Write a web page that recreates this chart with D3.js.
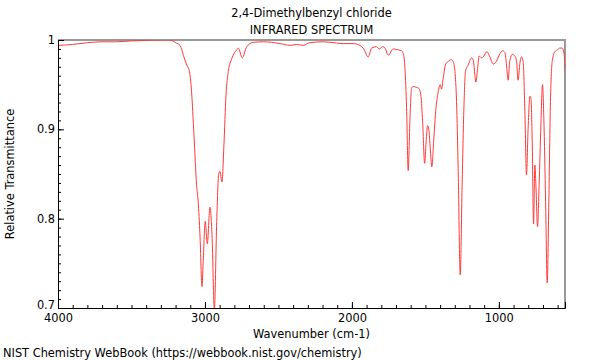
<!DOCTYPE html>
<html>
<head>
<meta charset="utf-8">
<script src="https://cdn.jsdelivr.net/npm/d3@7"></script>
<style>
  body { margin: 0; background: #fff; }
  svg { font-family: "DejaVu Sans", sans-serif; }
</style>
</head>
<body>
<svg id="chart" width="600" height="360"></svg>
<script>
// spectrum
const wavenumbers = [
  4000, 3900, 3800, 3700, 3600, 3500, 3400, 3300, 3250, 3220, 3200, 3170, 3143, 3124, 3107, 3091,
  3075, 3057, 3046, 3034, 3020, 3012, 2998, 2984, 2966, 2952, 2936, 2920, 2907, 2898, 2884, 2871,
  2857, 2841, 2818, 2784, 2773, 2746, 2716, 2671, 2603, 2490, 2422, 2376, 2331, 2286, 2195, 2104,
  2059, 1991, 1946, 1923, 1889, 1866, 1832, 1814, 1791, 1775, 1753, 1719, 1685, 1662, 1651, 1639,
  1628, 1617, 1605, 1594, 1583, 1560, 1545, 1530, 1519, 1505, 1495, 1485, 1476, 1467, 1456, 1444,
  1430, 1413, 1399, 1390, 1379, 1362, 1345, 1322, 1311, 1299, 1288, 1277, 1263, 1250, 1238, 1227,
  1209, 1186, 1175, 1156, 1145, 1134, 1118, 1102, 1082, 1061, 1039, 1016, 998, 975, 959, 948,
  937, 926, 909, 891, 880, 869, 857, 846, 835, 823, 812, 801, 789, 782, 773, 764,
  755, 748, 737, 726, 714, 703, 694, 682, 671, 660, 649, 637, 619, 601, 585, 569,
  555, 550
];
const transmittance = [
  0.994, 0.995, 0.997, 0.998, 0.998, 0.999, 0.9995, 1.0, 1.0, 0.999, 0.997, 0.994, 0.981, 0.972, 0.966, 0.942,
  0.894, 0.838, 0.819, 0.782, 0.724, 0.752, 0.797, 0.772, 0.813, 0.782, 0.698, 0.797, 0.849, 0.853, 0.841, 0.882,
  0.938, 0.965, 0.979, 0.989, 0.991, 0.980, 0.9925, 0.9974, 0.998, 0.996, 0.994, 0.995, 0.994, 0.997, 0.998, 0.9966,
  0.996, 0.996, 0.994, 0.991, 0.981, 0.991, 0.9925, 0.990, 0.9925, 0.991, 0.983, 0.990, 0.989, 0.988, 0.985, 0.968,
  0.924, 0.854, 0.912, 0.946, 0.948, 0.947, 0.946, 0.937, 0.909, 0.862, 0.886, 0.904, 0.899, 0.879, 0.858, 0.886,
  0.920, 0.942, 0.950, 0.945, 0.957, 0.973, 0.976, 0.978, 0.976, 0.965, 0.931, 0.856, 0.737, 0.838, 0.924, 0.965,
  0.972, 0.980, 0.978, 0.953, 0.968, 0.982, 0.980, 0.982, 0.987, 0.981, 0.973, 0.9765, 0.983, 0.988, 0.986, 0.972,
  0.955, 0.976, 0.984, 0.982, 0.976, 0.955, 0.974, 0.981, 0.976, 0.920, 0.849, 0.901, 0.937, 0.935, 0.886, 0.794,
  0.860, 0.838, 0.791, 0.838, 0.905, 0.950, 0.912, 0.819, 0.728, 0.819, 0.931, 0.976, 0.987, 0.989, 0.991, 0.991,
  0.983, 0.965
];

const xMajorTicks = [4000, 3000, 2000, 1000];
const yMajorTicks = [0.7, 0.8, 0.9, 1];
const titleLines = ["2,4-Dimethylbenzyl chloride", "INFRARED SPECTRUM"];

const svg = d3.select("#chart");
const margin = {left: 58, right: 35, top: 40, bottom: 52};
const width = 600, height = 360;
const fs = 11.4;

const x = d3.scaleLinear().domain([4000, 550]).range([margin.left, width - margin.right]);
const y = d3.scaleLinear().domain([0.7, 1]).range([height - margin.bottom, margin.top]);

const points = wavenumbers.map((w, i) => ({w: w, t: transmittance[i]}));

// clip so the deepest band is cut at the frame
svg.append("clipPath").attr("id", "plot-clip")
  .append("rect")
  .attr("x", x.range()[0]).attr("y", y.range()[1])
  .attr("width", x.range()[1] - x.range()[0])
  .attr("height", y.range()[0] - y.range()[1]);

// top and right frame in grey
svg.append("path")
  .attr("d", `M${x.range()[0]},${y(1)}H${x.range()[1]}V${y(0.7)}`)
  .attr("fill", "none").attr("stroke", "#999").attr("stroke-width", 2);

const line = d3.line()
  .x(d => x(d.w))
  .y(d => y(d.t))
  .curve(d3.curveMonotoneX);

svg.append("path")
  .datum(points)
  .attr("clip-path", "url(#plot-clip)")
  .attr("d", line)
  .attr("fill", "none")
  .attr("stroke", "#ff3a3a")
  .attr("stroke-width", 1);

// x axis, ticks pointing inward
const xAxis = svg.append("g").attr("transform", `translate(0,${y(0.7)})`);
xAxis.append("g")
  .call(d3.axisBottom(x).tickValues(d3.range(4000, 549, -100)).tickSize(-3).tickFormat(""))
  .call(g => g.select(".domain").remove());
xAxis.append("g")
  .call(d3.axisBottom(x).tickValues(xMajorTicks).tickSize(-6).tickPadding(6).tickFormat(d3.format("d")))
  .call(g => g.selectAll("text").attr("font-size", fs).attr("fill", "#000").attr("font-family", "DejaVu Sans"));

// y axis
const yAxis = svg.append("g").attr("transform", `translate(${x.range()[0]},0)`);
yAxis.append("g")
  .call(d3.axisLeft(y).tickValues(d3.range(70, 101).map(v => v / 100)).tickSize(-3).tickFormat(""))
  .call(g => g.select(".domain").remove());
yAxis.append("g")
  .call(d3.axisLeft(y).tickValues(yMajorTicks).tickSize(-6).tickPadding(3).tickFormat(d => d === 1 ? "1" : d3.format(".1f")(d)))
  .call(g => g.selectAll("text").attr("font-size", fs).attr("fill", "#000").attr("font-family", "DejaVu Sans"))
  .call(g => g.selectAll("text").filter(d => d === 0.7).attr("dy", "0.05em"));

svg.selectAll(".domain").attr("stroke", "#000");

// titles and labels
const midX = (x.range()[0] + x.range()[1]) / 2;
svg.selectAll(".title")
  .data(titleLines)
  .enter().append("text")
  .attr("class", "title")
  .attr("x", midX)
  .attr("y", (d, i) => 17 + i * 17)
  .attr("text-anchor", "middle")
  .attr("font-size", fs)
  .text(d => d);

svg.append("text")
  .attr("x", midX).attr("y", 338)
  .attr("text-anchor", "middle").attr("font-size", fs)
  .text("Wavenumber (cm-1)");

svg.append("text")
  .attr("transform", `translate(14,${(y.range()[0] + y.range()[1]) / 2}) rotate(-90)`)
  .attr("text-anchor", "middle").attr("font-size", fs)
  .text("Relative Transmittance");

svg.append("text")
  .attr("x", 3).attr("y", 357)
  .attr("font-size", fs)
  .text("NIST Chemistry WebBook (https://webbook.nist.gov/chemistry)");
</script>
</body>
</html>
